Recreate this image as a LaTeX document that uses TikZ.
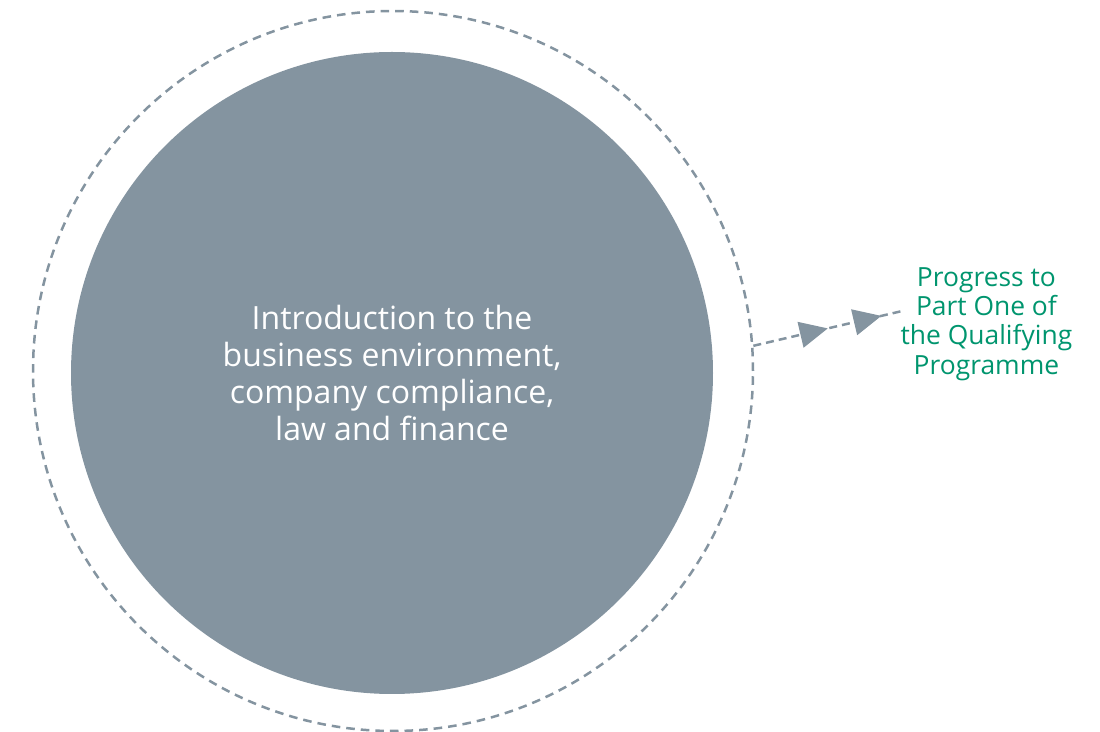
\documentclass[tikz,border=0pt]{standalone}
\usepackage{fontspec}
\setmainfont{Open Sans}
\usepackage{tikz}
\usetikzlibrary{arrows.meta, positioning, decorations.markings}
\definecolor{slate}{HTML}{8494A0}
\definecolor{progress}{HTML}{00956E}
\tikzstyle{core} = [circle, fill=slate, minimum size=321pt, inner sep=0pt, text=white, align=center, font=\fontsize{16}{18.6}\selectfont]
\tikzstyle{ring} = [circle, draw=slate, line width=1.25pt, dash pattern=on 4.3pt off 3pt, minimum size=360pt, inner sep=0pt]
\tikzstyle{goal} = [text=progress, align=center, inner sep=0pt, font=\fontsize{13.2}{14.6}\selectfont]
\tikzstyle{path} = [draw=slate, line width=1.25pt, dash pattern=on 4pt off 2.5pt,
    postaction={decorate, decoration={markings,
        mark=at position 0.5 with {\arrow[slate]{Triangle[length=14pt, width=13pt]}},
        mark=at position 0.86 with {\arrow[slate]{Triangle[length=14pt, width=13pt]}}}}]

\begin{document}
\begin{tikzpicture}[x=0.5pt, y=-0.5pt]
    \useasboundingbox (0,0) rectangle (1100,732);

    % Dashed ring and the filled circle inside it.
    \node (ring) [ring] at (393,371) {};
    \node (core) [core] at (392,373) {Introduction to the\\business environment,\\company compliance,\\law and finance};

    % Label on the right.
    \node (goal) [goal, right=73pt of ring, yshift=23.5pt] {Progress to\\Part One of\\the Qualifying\\Programme};

    % Coordinates.
    \coordinate (goal in) at ([xshift=1pt, yshift=6.5pt]goal.west);

    % Paths.
    \draw [path] (ring.4.5) -- (goal in);
\end{tikzpicture}
\end{document}
